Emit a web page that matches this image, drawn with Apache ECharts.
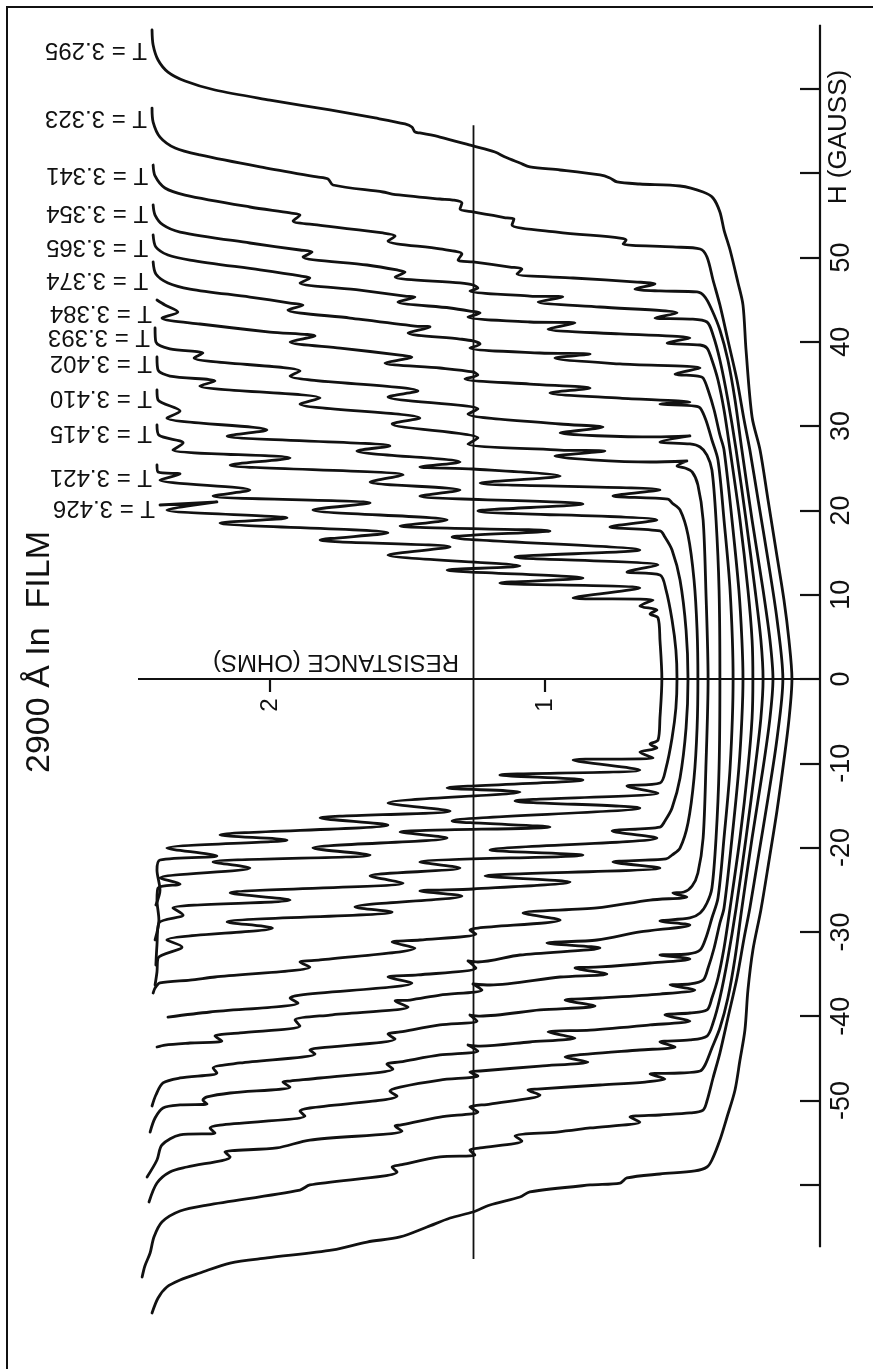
<!DOCTYPE html>
<html>
<head>
<meta charset="utf-8">
<title>2900 Å In film — R(H) traces</title>
<script src="https://cdn.jsdelivr.net/npm/echarts@6/dist/echarts.min.js"></script>
<style>
  html, body { margin: 0; padding: 0; background: #ffffff; }
  #chart { width: 873px; height: 1369px; }
</style>
</head>
<body>
<div id="chart"></div>
<script>
// Resistance (ohms) versus field H (gauss) for a 2900 Å indium film.
// Each trace is a list of [R, H] pairs, recorded from +H down to -H.

const temperatures = ['3.295', '3.323', '3.341', '3.354', '3.365', '3.374', '3.384',
                      '3.393', '3.402', '3.410', '3.415', '3.421', '3.426'];

const trace3295 = [[2.429,76.99],[2.425,75.21],[2.407,73.43],[2.371,72.0],[2.309,70.94],[2.2,69.87],[2.0,68.68],[1.782,67.5],[1.618,66.55],[1.509,65.84],[1.484,65.48],[1.473,64.89],[1.455,64.77],[1.382,64.29],[1.262,63.23],[1.182,62.51],[1.145,61.92],[1.091,61.21],[1.055,60.74],[0.945,60.38],[0.8,59.79],[0.764,59.43],[0.738,58.96],[0.655,58.72],[0.509,58.48],[0.425,57.77],[0.389,57.06],[0.364,55.4],[0.349,53.26],[0.327,50.89],[0.298,46.98],[0.28,44.36],[0.269,39.03],[0.247,31.08],[0.218,27.16],[0.189,21.23],[0.16,15.3],[0.131,9.37],[0.113,4.63],[0.102,0],
  [0.113,-4.86],[0.131,-9.61],[0.156,-15.54],[0.185,-21.47],[0.215,-27.4],[0.244,-32.15],[0.262,-36.89],[0.273,-41.64],[0.291,-45.2],[0.309,-48.75],[0.338,-51.96],[0.364,-54.69],[0.393,-57.06],[0.411,-57.89],[0.455,-58.36],[0.582,-58.72],[0.702,-59.19],[0.727,-59.79],[0.836,-60.02],[1.055,-60.85],[1.091,-61.45],[1.2,-62.4],[1.262,-63.23],[1.345,-63.94],[1.429,-65.01],[1.527,-66.19],[1.647,-66.79],[1.771,-67.73],[2.011,-68.68],[2.145,-69.28],[2.255,-70.46],[2.327,-71.29],[2.375,-72.12],[2.407,-73.43],[2.429,-75.21]];

const trace3323 = [[2.429,67.73],[2.425,66.07],[2.4,64.29],[2.345,62.99],[2.255,62.16],[2.036,60.74],[1.829,59.55],[1.789,59.31],[1.771,58.6],[1.589,57.77],[1.556,57.53],[1.382,56.94],[1.335,56.82],[1.302,56.47],[1.309,55.75],[1.262,55.4],[1.138,54.69],[1.113,54.57],[1.12,53.86],[0.956,53.02],[0.727,52.31],[0.705,52.08],[0.716,51.6],[0.535,51.25],[0.436,51.01],[0.411,50.06],[0.389,47.33],[0.364,44.37],[0.335,40.21],[0.302,35.47],[0.276,30.72],[0.255,27.16],[0.225,21.23],[0.189,14.12],[0.156,7.0],[0.135,0],
  [0.156,-7.0],[0.189,-14.12],[0.225,-21.23],[0.255,-27.16],[0.276,-30.72],[0.302,-35.47],[0.335,-40.21],[0.364,-44.37],[0.389,-47.33],[0.411,-50.06],[0.425,-51.13],[0.473,-51.48],[0.582,-51.72],[0.691,-51.96],[0.655,-52.55],[0.836,-53.26],[0.956,-53.74],[1.109,-54.21],[1.084,-54.8],[1.236,-55.63],[1.273,-55.87],[1.255,-56.47],[1.382,-56.7],[1.527,-57.65],[1.556,-57.89],[1.538,-58.48],[1.855,-60.02],[1.891,-60.62],[2.229,-62.4],[2.327,-63.11],[2.393,-64.41],[2.422,-66.19],[2.436,-68.09],[2.455,-69.63],[2.465,-70.94]];

const trace3341 = [[2.425,60.97],[2.418,59.67],[2.382,58.24],[2.309,57.41],[2.073,55.99],[1.927,55.28],[1.891,55.04],[1.916,54.33],[1.829,53.86],[1.589,52.91],[1.545,52.55],[1.571,51.96],[1.382,51.01],[1.302,50.42],[1.316,49.7],[1.262,49.47],[1.127,48.87],[1.084,48.64],[1.102,48.04],[0.898,47.57],[0.665,47.09],[0.6,46.86],[0.673,46.26],[0.582,46.03],[0.447,45.91],[0.418,45.31],[0.393,43.77],[0.364,41.4],[0.335,37.84],[0.309,33.1],[0.284,27.16],[0.247,18.86],[0.207,10.56],[0.182,4.63],[0.171,0],
  [0.182,-4.63],[0.207,-10.56],[0.247,-18.86],[0.284,-27.16],[0.309,-33.1],[0.335,-37.84],[0.364,-41.4],[0.393,-43.77],[0.418,-45.79],[0.436,-46.5],[0.509,-46.74],[0.618,-46.86],[0.564,-47.45],[0.636,-47.81],[0.8,-48.16],[1.029,-48.64],[1.062,-48.75],[1.018,-49.35],[1.2,-50.42],[1.273,-50.77],[1.244,-51.36],[1.382,-51.96],[1.527,-52.91],[1.545,-53.02],[1.52,-53.62],[1.855,-54.69],[1.975,-55.63],[2.164,-56.11],[2.145,-56.7],[2.302,-57.89],[2.364,-58.48],[2.411,-59.79],[2.44,-62.04]];

const trace3354 = [[2.425,56.23],[2.418,55.04],[2.389,53.86],[2.327,53.02],[2.073,51.72],[1.891,50.89],[1.847,50.65],[1.88,50.06],[1.647,49.11],[1.538,48.52],[1.509,48.28],[1.545,47.69],[1.309,46.98],[1.262,46.74],[1.244,46.38],[1.273,46.03],[1.055,45.43],[0.935,45.31],[1.025,44.72],[0.8,44.13],[0.52,43.42],[0.6,42.82],[0.473,42.7],[0.411,42.35],[0.389,40.81],[0.364,37.84],[0.335,33.1],[0.305,27.16],[0.269,18.86],[0.236,10.56],[0.215,4.63],[0.207,0],
  [0.215,-4.63],[0.236,-10.56],[0.269,-18.86],[0.305,-27.16],[0.335,-33.1],[0.364,-37.84],[0.389,-40.81],[0.411,-42.35],[0.473,-42.82],[0.582,-43.06],[0.527,-43.65],[0.655,-44.01],[0.836,-44.48],[0.927,-44.84],[0.844,-45.43],[1.018,-45.91],[1.236,-46.5],[1.273,-46.62],[1.244,-47.09],[1.382,-47.57],[1.527,-48.4],[1.564,-48.87],[1.538,-49.47],[1.855,-50.89],[1.891,-51.25],[1.873,-51.84],[2.182,-52.91],[2.218,-53.26],[2.2,-53.86],[2.327,-54.09],[2.393,-55.28],[2.411,-57.06],[2.447,-59.07]];

const trace3365 = [[2.425,52.67],[2.415,51.25],[2.371,50.3],[2.291,49.7],[2.036,48.52],[1.891,47.81],[1.855,47.57],[1.891,46.98],[1.673,46.14],[1.509,45.43],[1.473,45.31],[1.535,44.72],[1.345,44.01],[1.273,43.65],[1.236,43.42],[1.28,42.94],[1.055,42.35],[0.891,42.23],[0.989,41.52],[0.727,40.93],[0.473,40.45],[0.556,39.86],[0.436,39.62],[0.411,39.26],[0.393,37.84],[0.371,35.47],[0.349,31.91],[0.327,27.16],[0.291,18.86],[0.262,10.56],[0.247,4.63],[0.244,0],
  [0.247,-4.63],[0.262,-10.56],[0.291,-18.86],[0.327,-27.16],[0.349,-31.91],[0.371,-35.47],[0.393,-37.84],[0.411,-39.26],[0.473,-39.62],[0.564,-39.86],[0.473,-40.57],[0.618,-41.04],[0.836,-41.64],[0.989,-41.87],[0.891,-42.59],[1.055,-43.06],[1.236,-43.54],[1.28,-43.42],[1.244,-44.13],[1.382,-44.6],[1.527,-45.43],[1.575,-45.67],[1.553,-46.26],[1.818,-47.33],[1.927,-47.69],[1.953,-47.81],[1.927,-48.4],[2.145,-49.11],[2.229,-49.58],[2.244,-49.94],[2.229,-50.42],[2.327,-50.53],[2.389,-50.89],[2.418,-52.08],[2.436,-53.74]];

const trace3374 = [[2.425,49.47],[2.415,48.04],[2.371,46.98],[2.291,46.26],[2.073,45.31],[1.927,44.6],[1.88,44.37],[1.935,43.77],[1.709,42.82],[1.473,41.87],[1.418,41.76],[1.498,41.04],[1.309,40.33],[1.262,40.1],[1.236,39.74],[1.273,39.26],[1.018,38.67],[0.836,38.55],[0.964,38.08],[0.727,37.37],[0.436,36.89],[0.527,36.18],[0.444,35.94],[0.425,35.71],[0.407,34.28],[0.385,31.91],[0.364,28.94],[0.349,27.16],[0.32,18.86],[0.295,10.56],[0.284,4.63],[0.28,0],
  [0.284,-4.63],[0.295,-10.56],[0.32,-18.86],[0.349,-27.16],[0.364,-28.94],[0.385,-31.91],[0.407,-34.28],[0.425,-35.71],[0.473,-36.18],[0.545,-36.3],[0.455,-36.89],[0.582,-37.37],[0.8,-37.84],[0.927,-38.08],[0.818,-38.79],[1.018,-39.26],[1.236,-39.98],[1.273,-39.86],[1.247,-40.57],[1.382,-41.04],[1.527,-41.87],[1.571,-42.11],[1.545,-42.7],[1.818,-43.77],[1.855,-44.01],[1.836,-44.48],[2.109,-45.55],[2.207,-46.14],[2.193,-46.74],[2.327,-47.33],[2.389,-47.92],[2.415,-49.35],[2.429,-50.65]];

const trace3384 = [[2.411,44.96],[2.382,44.37],[2.335,43.54],[2.393,42.82],[2.255,42.11],[2.0,41.16],[1.836,40.69],[1.927,39.98],[1.745,39.26],[1.527,38.43],[1.484,38.2],[1.582,37.49],[1.382,36.89],[1.262,36.42],[1.244,36.06],[1.291,35.59],[1.055,34.99],[0.836,34.52],[0.982,33.93],[0.727,33.33],[0.473,32.86],[0.582,32.62],[0.455,32.38],[0.436,32.15],[0.415,30.72],[0.393,28.35],[0.371,25.98],[0.349,18.86],[0.327,10.56],[0.316,0],
  [0.327,-10.56],[0.349,-18.86],[0.371,-25.98],[0.393,-28.35],[0.415,-30.72],[0.436,-32.15],[0.48,-32.62],[0.582,-32.74],[0.473,-33.21],[0.618,-33.69],[0.8,-34.16],[0.891,-34.28],[0.775,-34.99],[0.945,-35.35],[1.2,-36.3],[1.262,-36.18],[1.229,-36.89],[1.382,-37.49],[1.491,-38.08],[1.545,-38.2],[1.498,-38.91],[1.782,-39.86],[1.909,-40.45],[1.891,-41.16],[2.109,-41.99],[2.2,-42.35],[2.175,-42.94],[2.291,-43.18],[2.382,-43.42],[2.411,-43.65]];

const trace3393 = [[2.418,41.64],[2.415,39.98],[2.364,39.15],[2.244,38.67],[2.276,38.08],[1.891,36.54],[1.927,35.94],[1.462,34.16],[1.571,33.45],[1.244,32.03],[1.28,31.44],[0.945,30.25],[0.789,29.89],[0.945,29.18],[0.6,28.71],[0.473,28.83],[0.582,28.11],[0.473,27.88],[0.436,27.52],[0.411,26.57],[0.393,24.79],[0.378,18.86],[0.367,10.56],[0.364,0],
  [0.367,-10.56],[0.378,-18.86],[0.393,-24.79],[0.411,-26.57],[0.436,-27.76],[0.473,-28.35],[0.582,-28.71],[0.473,-29.18],[0.655,-30.01],[0.811,-30.96],[0.993,-31.32],[0.8,-31.91],[1.091,-32.74],[1.244,-33.57],[1.28,-33.45],[1.251,-34.28],[1.462,-35.11],[1.571,-35.35],[1.484,-36.06],[1.891,-37.49],[1.927,-37.84],[1.898,-38.43],[2.218,-39.5],[2.371,-40.1]];

const trace3402 = [[2.411,38.2],[2.407,36.65],[2.364,35.94],[2.2,35.35],[2.255,34.76],[1.818,33.33],[1.891,32.62],[1.455,30.96],[1.556,30.25],[1.244,28.59],[1.28,27.88],[0.945,27.16],[0.782,27.05],[0.964,26.45],[0.618,25.74],[0.484,25.86],[0.52,25.27],[0.491,25.03],[0.465,24.56],[0.444,23.01],[0.425,18.86],[0.415,10.56],[0.407,0],
  [0.415,-10.56],[0.425,-18.86],[0.444,-23.01],[0.465,-24.56],[0.495,-25.27],[0.535,-25.39],[0.484,-25.86],[0.618,-26.22],[0.811,-27.16],[1.08,-27.76],[0.945,-28.59],[1.244,-29.54],[1.273,-29.77],[1.251,-30.25],[1.455,-30.96],[1.556,-31.2],[1.473,-31.91],[1.818,-33.33],[1.891,-33.57],[1.855,-34.16],[2.2,-35.35],[2.291,-35.71],[2.4,-36.06],[2.418,-36.65],[2.425,-37.25]];

const trace3410 = [[2.411,34.28],[2.407,33.1],[2.327,31.79],[2.375,30.96],[2.011,29.54],[2.156,28.83],[1.564,27.64],[1.684,27.05],[1.309,25.74],[1.455,25.15],[1.262,24.91],[0.945,24.08],[1.236,23.25],[0.582,22.42],[0.753,21.71],[0.553,21.35],[0.538,20.88],[0.509,20.05],[0.48,17.08],[0.458,11.74],[0.447,5.81],[0.444,0],
  [0.447,-5.81],[0.458,-11.74],[0.48,-17.08],[0.509,-20.05],[0.538,-20.88],[0.56,-21.35],[0.753,-21.71],[0.582,-22.42],[1.218,-23.37],[0.909,-24.08],[1.262,-24.91],[1.455,-25.15],[1.302,-25.74],[1.691,-27.05],[1.556,-27.64],[2.156,-28.83],[1.991,-29.54],[2.375,-30.96],[2.32,-31.79],[2.407,-33.1],[2.411,-34.76],[2.418,-36.3]];

const trace3415 = [[2.411,30.13],[2.404,28.94],[2.316,28.0],[2.353,27.16],[1.927,26.22],[2.145,25.39],[1.516,24.2],[1.636,23.37],[1.309,22.42],[1.455,21.71],[0.862,20.76],[1.244,19.93],[0.593,18.86],[0.764,18.03],[0.582,17.56],[0.564,16.84],[0.538,15.3],[0.509,11.74],[0.487,5.81],[0.48,0],
  [0.487,-5.81],[0.509,-11.74],[0.538,-15.3],[0.564,-16.84],[0.582,-17.56],[0.756,-18.03],[0.593,-18.86],[1.2,-20.28],[0.862,-20.88],[1.455,-21.71],[1.309,-22.42],[1.636,-23.37],[1.516,-24.2],[2.145,-25.39],[1.927,-26.22],[2.353,-27.16],[2.316,-28.0],[2.404,-28.94],[2.411,-31.55],[2.415,-33.93]];

const trace3421 = [[2.411,25.39],[2.407,24.56],[2.327,24.32],[2.4,23.61],[2.073,22.42],[2.207,21.71],[1.636,20.88],[1.844,20.05],[1.356,18.86],[1.527,18.15],[0.982,17.56],[1.338,16.84],[0.655,15.3],[1.109,14.47],[0.589,13.52],[0.702,12.69],[0.582,12.34],[0.56,10.56],[0.538,7.0],[0.524,3.44],[0.52,0],
  [0.524,-3.44],[0.538,-7.0],[0.56,-10.56],[0.582,-12.34],[0.702,-12.69],[0.589,-13.52],[1.109,-14.47],[0.655,-15.3],[1.338,-16.84],[0.982,-17.56],[1.527,-18.15],[1.356,-18.86],[1.844,-20.05],[1.636,-20.88],[2.207,-21.71],[2.073,-22.42],[2.4,-23.61],[2.327,-24.32],[2.407,-24.79],[2.411,-26.22],[2.404,-28.59],[2.418,-30.96]];

const trace3426 = [[2.4,20.64],[2.193,21.0],[2.375,20.05],[1.938,19.1],[2.182,18.51],[1.571,17.32],[1.818,16.49],[1.345,15.66],[1.571,14.71],[1.091,13.4],[1.356,12.93],[0.862,11.98],[1.164,11.39],[0.655,10.79],[0.898,9.61],[0.607,9.37],[0.655,8.66],[0.593,8.19],[0.618,7.71],[0.589,7.24],[0.582,4.63],[0.575,0],
  [0.582,-4.63],[0.589,-7.24],[0.618,-7.71],[0.593,-8.19],[0.655,-8.66],[0.607,-9.37],[0.898,-9.61],[0.655,-10.79],[1.164,-11.39],[0.862,-11.98],[1.356,-12.93],[1.091,-13.4],[1.571,-14.71],[1.345,-15.66],[1.818,-16.49],[1.571,-17.32],[2.182,-18.51],[1.938,-19.1],[2.375,-20.05],[2.193,-21.0],[2.4,-21.47],[2.411,-22.66],[2.4,-25.03],[2.415,-26.81]];

// Axis furniture (in data units)
const hTicks = [-60, -50, -40, -30, -20, -10, 0, 10, 20, 30, 40, 50, 60, 70];
const hLabels = [-50, -40, -30, -20, -10, 0, 10, 20, 30, 40, 50];
const rTicks = [1, 2];
const hAxisSpan = [-67.4, 77.6];     // extent of the drawn H axis at R = 0
const rAxisSpan = [0, 2.48];         // extent of the drawn R axis at H = 0
const guideR = 1.26;                 // vertical guide line
const guideSpan = [-68.8, 65.7];

const INK = '#111111';
const FONT = '"Liberation Sans", Arial, Helvetica, sans-serif';

const traces = [trace3295, trace3323, trace3341, trace3354, trace3365, trace3374, trace3384,
                trace3393, trace3402, trace3410, trace3415, trace3421, trace3426];

const chart = echarts.init(document.getElementById('chart'), null, { renderer: 'canvas' });

const series = traces.map((d, i) => ({
  type: 'line',
  name: 'T = ' + temperatures[i],
  data: d,
  symbol: 'none',
  showSymbol: false,
  smooth: 0.3,
  clip: false,
  silent: true,
  z: 3,
  lineStyle: { color: INK, width: 2.8, cap: 'round', join: 'round' }
}));

function straight(data, width) {
  return { type: 'line', data, symbol: 'none', showSymbol: false, smooth: false, clip: false,
           silent: true, z: 2, lineStyle: { color: INK, width } };
}
series.push(straight([[0, hAxisSpan[0]], [0, hAxisSpan[1]]], 2.2));
series.push(straight([[rAxisSpan[0], 0], [rAxisSpan[1], 0]], 2.2));
series.push(straight([[guideR, guideSpan[0]], [guideR, guideSpan[1]]], 1.8));

chart.setOption({
  animation: false,
  backgroundColor: '#ffffff',
  grid: { left: 8.75, right: 53, top: 4.6, bottom: 15.6, containLabel: false, outerBoundsMode: 'none' },
  xAxis: {
    type: 'value', inverse: true, min: 0, max: 2.95,
    splitLine: { show: false },
    axisLine: { show: true, onZero: true, lineStyle: { opacity: 0 } },
    axisTick: { show: true, customValues: rTicks, length: 13, lineStyle: { color: INK, width: 2.2 } },
    axisLabel: { show: false }
  },
  yAxis: {
    type: 'value', min: -80, max: 80, interval: 10, position: 'right',
    splitLine: { show: false },
    axisLine: { show: true, onZero: false, lineStyle: { opacity: 0 } },
    axisTick: { show: true, inside: true, length: 20, customValues: hTicks,
                lineStyle: { color: INK, width: 2.2 } },
    axisLabel: { show: true, customValues: hLabels, rotate: 90, margin: 8, fontSize: 27,
                 color: INK, fontFamily: FONT }
  },
  series
});

const centred = { align: 'center', verticalAlign: 'middle', textAlign: 'center', textVerticalAlign: 'middle' };

// Resistance tick labels, turned a quarter so they read upward like the field labels.
const rTickLabels = rTicks.map(v => {
  const p = chart.convertToPixel({ gridIndex: 0 }, [v, 0]);
  return { type: 'text', x: p[0], y: p[1] + 26, rotation: Math.PI / 2, silent: true,
           style: Object.assign({ text: String(v), font: '24px ' + FONT, fill: INK }, centred) };
});

// Temperature tags sit just left of where each trace starts, printed upside down.
const tagDrop = [20, 10, 10, 8, 12, 18, 13, 9, 6, 8, 8, 12, 3];
const tags = traces.map((d, i) => {
  const p = chart.convertToPixel({ gridIndex: 0 }, d[0]);
  return {
    type: 'text', x: p[0] - 5, y: p[1] + tagDrop[i], rotation: Math.PI, silent: true,
    style: { text: 'T = ' + temperatures[i], font: '24px ' + FONT, fill: INK,
             align: 'left', verticalAlign: 'middle', textAlign: 'left', textVerticalAlign: 'middle' }
  };
});

chart.setOption({
  graphic: [
    { type: 'polyline', silent: true, shape: { points: [[7, 1369], [7, 7], [873, 7]] },
      style: { stroke: INK, lineWidth: 2, fill: null } },
    { type: 'text', x: 40, y: 652, rotation: Math.PI / 2, silent: true,
      style: Object.assign({ text: '2900 Å In  FILM', font: '34px ' + FONT, fill: INK }, centred) },
    { type: 'text', x: 336, y: 662, rotation: Math.PI, silent: true,
      style: Object.assign({ text: 'RESISTANCE (OHMS)', font: '24px ' + FONT, fill: INK }, centred) },
    { type: 'text', x: 839, y: 137, rotation: Math.PI / 2, silent: true,
      style: Object.assign({ text: 'H (GAUSS)', font: '26px ' + FONT, fill: INK }, centred) }
  ].concat(rTickLabels, tags)
});
</script>
</body>
</html>
